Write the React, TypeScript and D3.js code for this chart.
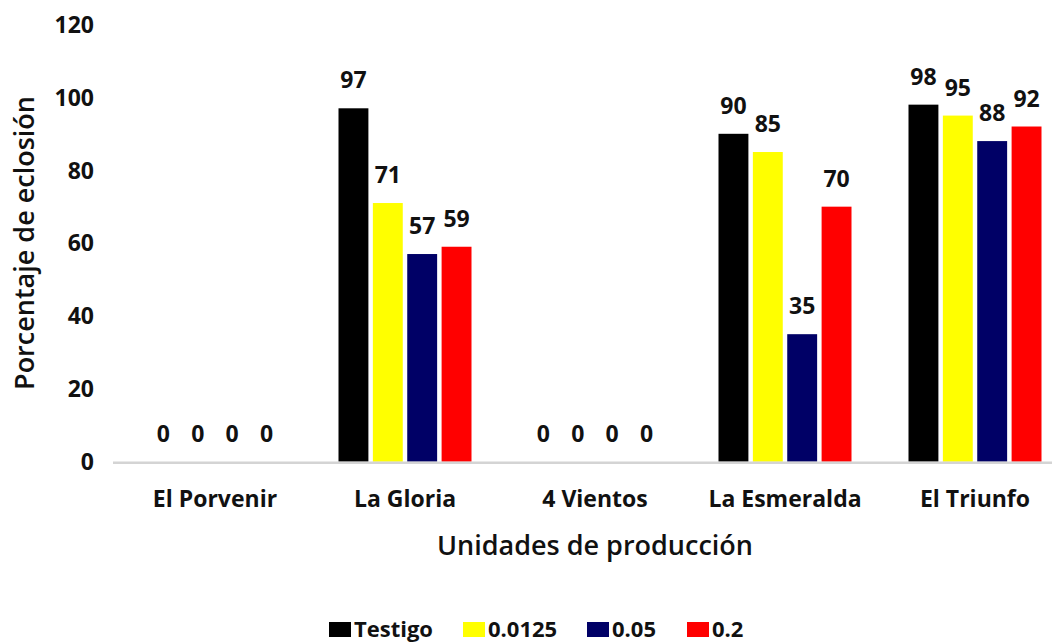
import React from "react";
import * as d3 from "d3";

const categories = ["El Porvenir", "La Gloria", "4 Vientos", "La Esmeralda", "El Triunfo"];
const seriesNames = ["Testigo", "0.0125", "0.05", "0.2"];
const testigo = [0, 97, 0, 90, 98];
const s00125 = [0, 71, 0, 85, 95];
const s005 = [0, 57, 0, 35, 88];
const s02 = [0, 59, 0, 70, 92];
const seriesValues = [testigo, s00125, s005, s02];
const colors = ["#000000", "#ffff00", "#000066", "#ff0000"];
const yTicks = [0, 20, 40, 60, 80, 100, 120];

const W = 1052;
const H = 643;
const FONT = "'Open Sans', 'DejaVu Sans', sans-serif";

export default function App() {
  const y = d3.scaleLinear().domain([0, 120]).range([461.7, 24.5]);
  const x0 = d3.scaleBand<string>().domain(categories).range([120, 1070]).paddingInner(0.3).paddingOuter(0.15);
  const x1 = d3.scaleBand<string>().domain(seriesNames).range([0, x0.bandwidth()]).paddingInner(0.13).paddingOuter(0);

  const legendSquares = [329, 463, 587, 687];

  return (
    <svg width={W} height={H} style={{ position: "absolute", left: 0, top: 0, background: "#fff" }} fontFamily={FONT}>
      <rect x={0} y={0} width={W} height={H} fill="#fff" />
      {/* y tick labels */}
      {yTicks.map((t) => (
        <text key={t} x={94} y={y(t)} dy="0.36em" textAnchor="end" fontSize={23} fontWeight={700} fill="#111">
          {t}
        </text>
      ))}
      {/* y title */}
      <text transform={`translate(34,243) rotate(-90)`} textAnchor="middle" fontSize={27} fontWeight={600} fill="#111">
        Porcentaje de eclosión
      </text>
      {/* bars */}
      {categories.map((c, ci) => (
        <g key={c} transform={`translate(${x0(c)},0)`}>
          {seriesNames.map((s, si) => {
            const v = seriesValues[si][ci];
            return (
              <g key={s}>
                {v > 0 && (
                  <rect x={x1(s)} y={y(v)} width={x1.bandwidth()} height={y(0) - y(v)} fill={colors[si]} />
                )}
                <text
                  x={(x1(s) as number) + x1.bandwidth() / 2}
                  y={y(v) - 20}
                  textAnchor="middle"
                  fontSize={23}
                  fontWeight={700}
                  fill="#111"
                >
                  {v}
                </text>
              </g>
            );
          })}
        </g>
      ))}
      {/* x axis line */}
      <line x1={113} x2={W} y1={y(0) + 1} y2={y(0) + 1} stroke="#d4d4d4" strokeWidth={2.5} />
      {/* category labels */}
      {categories.map((c) => (
        <text key={c} x={(x0(c) as number) + x0.bandwidth() / 2} y={507} textAnchor="middle" fontSize={23} fontWeight={700} fill="#111">
          {c}
        </text>
      ))}
      {/* x title */}
      <text x={595} y={555} textAnchor="middle" fontSize={27} fontWeight={600} fill="#111">
        Unidades de producción
      </text>
      {/* legend */}
      {seriesNames.map((s, i) => (
        <g key={s}>
          <rect x={legendSquares[i]} y={622} width={22} height={15} fill={colors[i]} />
          <text x={legendSquares[i] + 25} y={637} fontSize={22} fontWeight={700} fill="#111">
            {s}
          </text>
        </g>
      ))}
    </svg>
  );
}
